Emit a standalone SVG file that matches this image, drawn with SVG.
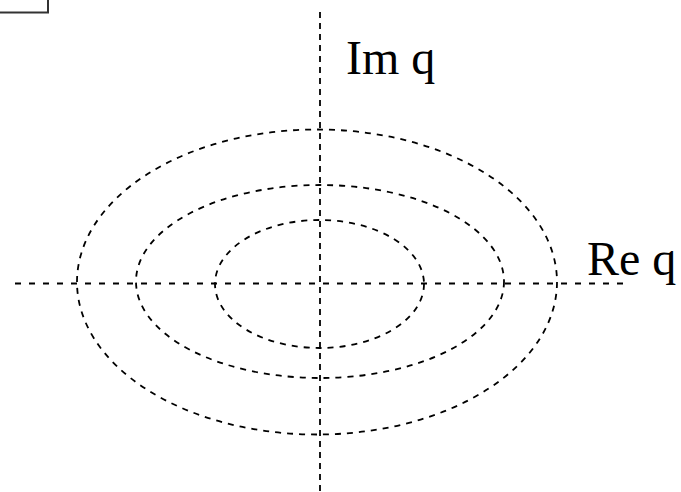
<svg xmlns="http://www.w3.org/2000/svg" width="681" height="492" viewBox="0 0 681 492">
<style>
.d{fill:none;stroke:#000;stroke-width:1.8;stroke-dasharray:6 6}
.ax{fill:none;stroke:#000;stroke-width:1.8}
.t{font-family:"Liberation Serif","Times New Roman",serif;font-size:48px;fill:#000}
</style>
<rect width="681" height="492" fill="#fff"/>
<g id="frame"><rect x="-10" y="-10" width="58" height="22.5" fill="none" stroke="#333" stroke-width="2"/></g>
<g id="axes">
<line class="ax" x1="15" y1="283.5" x2="626" y2="283.5" stroke-dasharray="6 8"/>
<line class="ax" x1="320" y1="12" x2="320" y2="492" stroke-dasharray="6 5"/>
</g>
<g id="contours">
<ellipse class="d" cx="317" cy="282" rx="240" ry="152.5"/>
<ellipse class="d" cx="320" cy="281.5" rx="184" ry="96.5"/>
<ellipse class="d" cx="319.5" cy="284" rx="104.5" ry="64"/>
</g>
<g id="labels">
<text class="t" x="346" y="74">Im q</text>
<text class="t" x="587" y="275">Re q</text>
</g>
</svg>
